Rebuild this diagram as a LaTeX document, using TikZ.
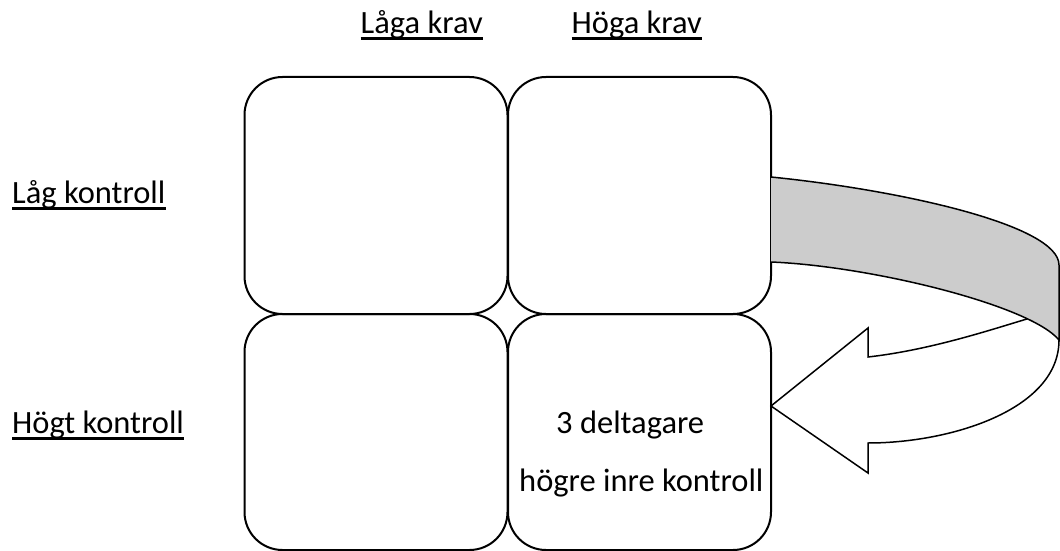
\documentclass[tikz,border=0pt]{standalone}
\usepackage{fontspec}
\setmainfont{Carlito}
\begin{document}
\begin{tikzpicture}[x=1pt,y=-1pt,
  cell/.style={draw,line width=2pt,rounded corners=38pt,minimum width=263pt,inner sep=0pt},
  lbl/.style={anchor=base west,inner sep=0pt,font=\fontsize{32.5}{38}\selectfont},
  uline/.style={line width=3pt},
  arr/.style={draw,line width=1.5pt,line join=miter}]
\useasboundingbox (0,0) rectangle (1060,551);
% cells
\node[cell,minimum height=237pt] (tl) at (376,195.5) {};
\node[cell,minimum height=237pt] (tr) at (639.5,195.5) {};
\node[cell,minimum height=236pt] (bl) at (376,432) {};
\node[cell,minimum height=236pt] (br) at (639.5,432) {};
% labels
\node[lbl] (lk) at (360.5,33.3) {Låga krav};
\node[lbl] (hk) at (571.5,33.3) {Höga krav};
\node[lbl] (lkon) at (12,203.3) {Låg kontroll};
\node[lbl] (hkon) at (12,433.3) {Högt kontroll};
\node[lbl] (d3) at (556,433.3) {3 deltagare};
\node[lbl] (hik) at (519,491.7) {högre inre kontroll};
\foreach \n in {lk,hk,lkon,hkon}
  \draw[uline] ([yshift=-5.5pt]\n.base west) -- ([yshift=-5.5pt]\n.base east);
% curved arrow
\path (771,262) .. controls (870,266) and (1030,305) .. (1059,340) coordinate[pos=0.8] (J);
\draw[arr] (J) .. controls (990,330) and (930,350) .. (868,357)
  -- (868,328) -- (771,406) -- (868,473) -- (868,443)
  .. controls (950,443) and (1059,410) .. (1059,340);
\draw[arr,fill=black!20] (771,177) .. controls (900,190) and (1059,225) .. (1059,265)
  -- (1059,340) .. controls (1030,305) and (870,266) .. (771,262);
\end{tikzpicture}
\end{document}
